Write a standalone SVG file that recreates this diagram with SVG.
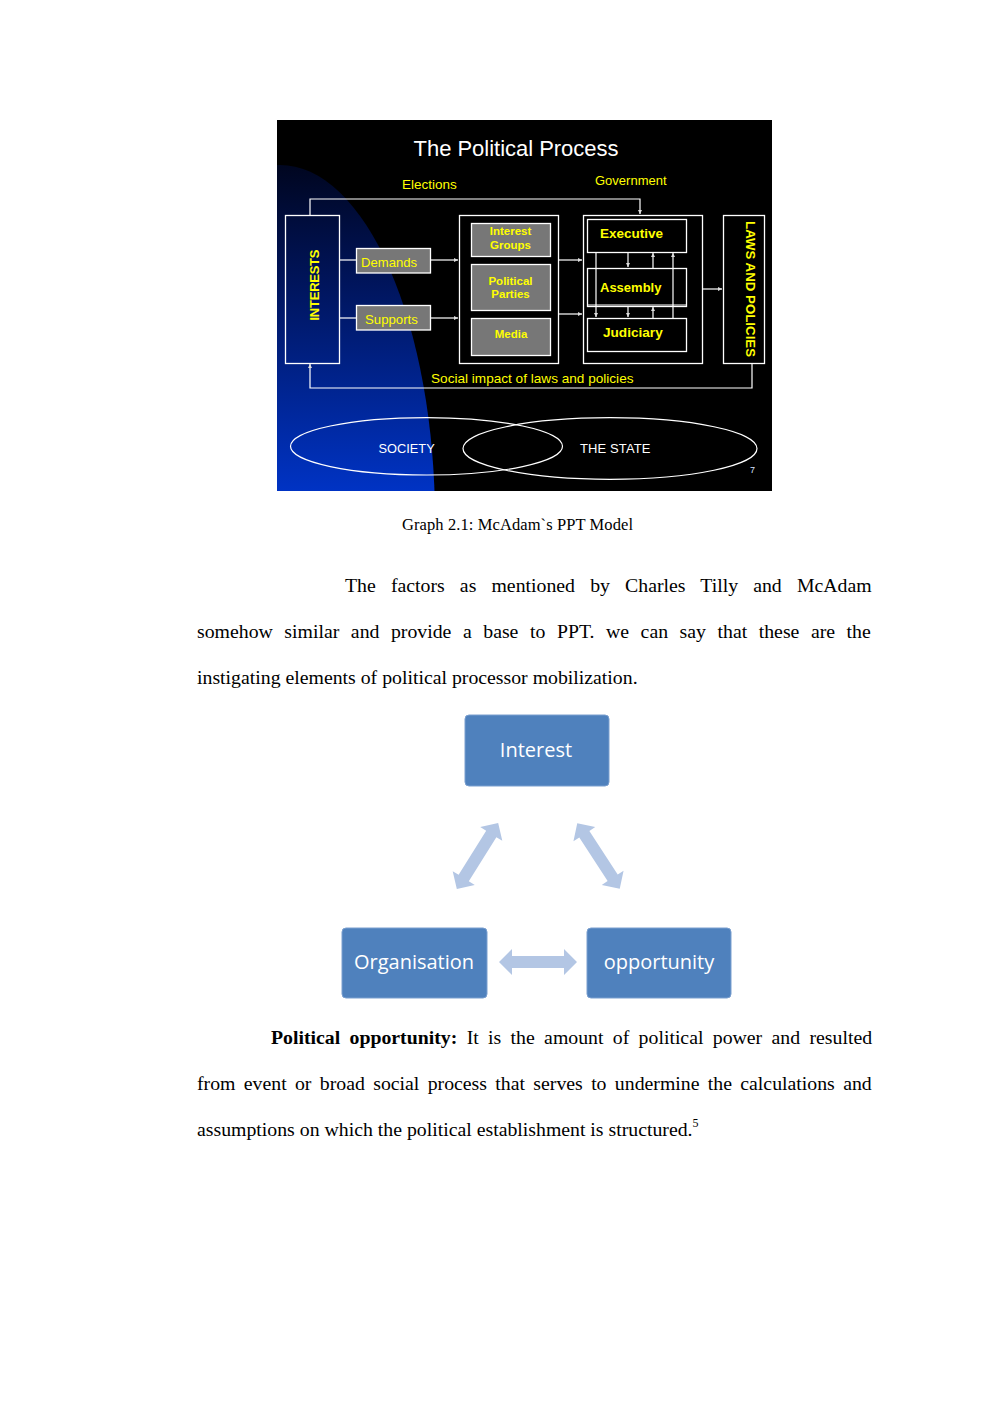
<svg xmlns="http://www.w3.org/2000/svg" width="992" height="1403" viewBox="0 0 992 1403">
<style>
.sl{font-family:"Liberation Sans",Arial,sans-serif;fill:#ffff00}
.slb{font-family:"Liberation Sans",Arial,sans-serif;fill:#ffff00;font-weight:bold}
.wt{font-family:"Liberation Sans",Arial,sans-serif;fill:#ffffff}
.box{fill:none;stroke:#ffffff;stroke-width:1.3}
.gbox{fill:#777777;stroke:#ffffff;stroke-width:1.3}
.ln{fill:none;stroke:#ffffff;stroke-width:1.2}
.body{font-family:"Liberation Serif","Times New Roman",serif;font-size:19.8px;fill:#000000}
.bn{fill:#4f81bd;stroke:#7a9fcf;stroke-width:1}
.bt{font-family:"Open Sans","Noto Sans",sans-serif;font-size:20px;fill:#ffffff;text-anchor:middle}
.da{fill:#b3c6e4}
</style>
<defs>
<linearGradient id="bg" x1="0" y1="165" x2="0" y2="491" gradientUnits="userSpaceOnUse">
<stop offset="0" stop-color="#000620"/>
<stop offset="0.35" stop-color="#00145a"/>
<stop offset="1" stop-color="#0033c4"/>
</linearGradient>
<clipPath id="slideclip"><rect x="277" y="120" width="495" height="371"/></clipPath>
<marker id="ah" viewBox="0 0 6 6" refX="6" refY="3" markerWidth="4" markerHeight="4" orient="auto" markerUnits="userSpaceOnUse">
<path d="M0,0 L6,3 L0,6 Z" fill="#dddddd"/>
</marker>
<path id="dbl" d="M-39,0 L-26,-13 L-26,-6 L26,-6 L26,-13 L39,0 L26,13 L26,6 L-26,6 L-26,13 Z"/>
</defs>

<!-- slide background -->
<g id="slide">
<rect x="277" y="120" width="495" height="371" fill="#000000"/>
<ellipse cx="280" cy="520" rx="155" ry="355" fill="url(#bg)" clip-path="url(#slideclip)"/>
<text class="wt" x="516" y="156" font-size="22" text-anchor="middle" textLength="205">The Political Process</text>
<text class="sl" x="402" y="188.5" font-size="13.5">Elections</text>
<text class="sl" x="595" y="185" font-size="13">Government</text>
</g>

<g id="connectors">
<path class="ln" d="M310,215 V199 H640 V214" marker-end="url(#ah)"/>
<path class="ln" d="M752,363 V388 H310 V364" marker-end="url(#ah)"/>
<path class="ln" d="M340,260 H356"/>
<path class="ln" d="M340,318 H356"/>
<path class="ln" d="M431,260 H458" marker-end="url(#ah)"/>
<path class="ln" d="M431,318 H458" marker-end="url(#ah)"/>
<path class="ln" d="M558,260 H582" marker-end="url(#ah)"/>
<path class="ln" d="M558,314 H582" marker-end="url(#ah)"/>
<path class="ln" d="M703,289 H722" marker-end="url(#ah)"/>
<path class="ln" d="M596,252 V317" marker-end="url(#ah)"/>
<path class="ln" d="M628,252 V267" marker-end="url(#ah)"/>
<path class="ln" d="M628,306 V317" marker-end="url(#ah)"/>
<path class="ln" d="M653,268 V253" marker-end="url(#ah)"/>
<path class="ln" d="M653,318 V307" marker-end="url(#ah)"/>
<path class="ln" d="M673,318 V253" marker-end="url(#ah)"/>
<use href="#dbl" class="da" transform="translate(538,962)"/>
<use href="#dbl" class="da" transform="translate(477.5,856) rotate(-58)"/>
<use href="#dbl" class="da" transform="translate(598.5,856) rotate(57)"/>
</g>

<g id="interests">
<rect class="box" x="285.5" y="215.5" width="54" height="148"/>
<text class="slb" font-size="13" text-anchor="middle" textLength="71" transform="translate(319,285) rotate(-90)">INTERESTS</text>
</g>
<g id="demands">
<rect class="gbox" x="356.5" y="248.5" width="74" height="24.5"/>
<text class="sl" x="361" y="266.7" font-size="13.1">Demands</text>
</g>
<g id="supports">
<rect class="gbox" x="356.5" y="305.5" width="74" height="24.5"/>
<text class="sl" x="365" y="324.3" font-size="13.2">Supports</text>
</g>
<g id="actors">
<rect class="box" x="459.5" y="215.5" width="99" height="148"/>
</g>
<g id="interest-groups">
<rect class="gbox" x="471.5" y="223.5" width="79" height="33"/>
<text class="slb" x="510.5" y="235" font-size="11.5" text-anchor="middle">Interest</text>
<text class="slb" x="510.5" y="249" font-size="11.5" text-anchor="middle">Groups</text>
</g>
<g id="political-parties">
<rect class="gbox" x="471.5" y="264.5" width="79" height="46"/>
<text class="slb" x="510.5" y="285" font-size="11.5" text-anchor="middle">Political</text>
<text class="slb" x="510.5" y="298" font-size="11.5" text-anchor="middle">Parties</text>
</g>
<g id="media">
<rect class="gbox" x="471.5" y="318.5" width="79" height="37"/>
<text class="slb" x="511" y="338" font-size="11.5" text-anchor="middle">Media</text>
</g>
<g id="government">
<rect class="box" x="583.5" y="215.5" width="119" height="148"/>
</g>
<g id="executive">
<rect class="box" x="587.5" y="219.5" width="99" height="33"/>
<text class="slb" x="600" y="238.3" font-size="13.5">Executive</text>
</g>
<g id="assembly">
<rect class="box" x="587.5" y="268.5" width="99" height="38"/>
<line class="ln" x1="587.5" y1="305" x2="686.5" y2="305"/>
<text class="slb" x="600" y="292.3" font-size="13">Assembly</text>
</g>
<g id="judiciary">
<rect class="box" x="587.5" y="318.5" width="99" height="33"/>
<text class="slb" x="603" y="337.3" font-size="13.6">Judiciary</text>
</g>
<g id="laws">
<rect class="box" x="723.5" y="215.5" width="41" height="148"/>
<text class="slb" font-size="13.2" text-anchor="middle" textLength="136" transform="translate(745.5,289) rotate(90)">LAWS AND POLICIES</text>
</g>
<g id="social-impact">
<text class="sl" x="431" y="382.7" font-size="13.6">Social impact of laws and policies</text>
</g>
<g id="society">
<ellipse cx="426.5" cy="446.3" rx="136" ry="28.7" fill="none" stroke="#ffffff" stroke-width="1.2"/>
<text class="wt" x="378.5" y="452.7" font-size="12.8">SOCIETY</text>
</g>
<g id="the-state">
<ellipse cx="610" cy="448.5" rx="147" ry="30.8" fill="none" stroke="#ffffff" stroke-width="1.2"/>
<text class="wt" x="580" y="452.7" font-size="13" textLength="70.5">THE  STATE</text>
</g>
<text x="750" y="473.3" font-size="9" fill="#d8e4ff" font-family="Liberation Sans, Arial, sans-serif">7</text>

<!-- caption and body text -->
<text x="402" y="530" font-family="Liberation Serif, Times New Roman, serif" font-size="16.5" textLength="231" fill="#000">Graph 2.1: McAdam`s PPT Model</text>

<text class="body" x="345" y="591.7" word-spacing="10.2">The factors as mentioned by Charles Tilly and McAdam</text>
<text class="body" x="197" y="637.5" word-spacing="6.6">somehow similar and provide a base to PPT. we can say that these are the</text>
<text class="body" x="197" y="683.5">instigating elements of political processor mobilization.</text>

<g id="interest">
<rect class="bn" x="465" y="715" width="144" height="71" rx="4"/>
<text class="bt" x="536" y="757">Interest</text>
</g>
<g id="organisation">
<rect class="bn" x="342" y="928" width="145" height="70" rx="4"/>
<text class="bt" x="414" y="969">Organisation</text>
</g>
<g id="opportunity">
<rect class="bn" x="587" y="928" width="144" height="70" rx="4"/>
<text class="bt" x="659" y="969">opportunity</text>
</g>

<text class="body" x="271" y="1043.5" word-spacing="4.4"><tspan font-weight="bold">Political opportunity:</tspan> It is the amount of political power and resulted</text>
<text class="body" x="197" y="1089.5" word-spacing="3.4">from event or broad social process that serves to undermine the calculations and</text>
<text class="body" x="197" y="1135.5">assumptions on which the political establishment is structured.<tspan font-size="12" dy="-9">5</tspan></text>
</svg>
